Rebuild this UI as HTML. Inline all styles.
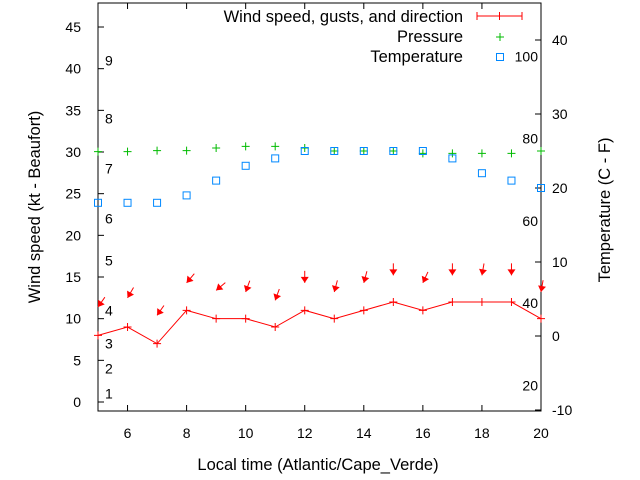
<!DOCTYPE html>
<html><head><meta charset="utf-8"><style>
body{margin:0;background:#fff}
svg{display:block;font-family:"Liberation Sans",sans-serif;font-size:14px}
.big{font-size:16.5px}
</style></head><body>
<svg id="chart" width="640" height="480">
<g id="g"></g>
</svg>
<script>
const hours=[5,6,7,8,9,10,11,12,13,14,15,16,17,18,19,20];
const windSpeed=[8,9,7,11,10,10,9,11,10,11,12,11,12,12,12,10];
const gusts=[11.4,12.5,10.4,14.3,13.4,13.2,12.2,14.3,13.2,14.3,15.2,14.3,15.2,15.2,15.2,13.2];
const windDir=[35,30,35,40,50,20,20,0,15,15,0,25,0,10,0,10];
const pressure=[30.04,30.04,30.16,30.16,30.48,30.68,30.68,30.48,30.12,30.12,30.12,29.84,29.84,29.84,29.84,30.12];
const temperature=[18,18,18,19,21,23,24,25,25,25,25,25,24,22,21,20];
const xTicks=[6,8,10,12,14,16,18,20];
const yTicks=[0,5,10,15,20,25,30,35,40,45];
const y2Ticks=[-10,0,10,20,30,40];
const fTicks=[20,40,60,80,100];
const beaufort=[1,4,7,11,17,22,28,34,41];

const L=98,R=541,T=3,B=411;
const X=v=>L+(v-5)*(R-L)/15;
const Y=v=>402-v*8.333;
const Y2=v=>336-v*7.4;
const ns="http://www.w3.org/2000/svg";
const g=document.getElementById('g');
function el(tag,attrs,txt){const e=document.createElementNS(ns,tag);for(const k in attrs)e.setAttribute(k,attrs[k]);if(txt!==undefined)e.textContent=txt;g.appendChild(e);return e;}

let e=el('rect',{x:L,y:T,width:R-L,height:B-T,fill:'none',stroke:'#000','stroke-width':1});



xTicks.forEach(t=>{
 let l=el('path',{d:`M${X(t)},${B}v-6M${X(t)},${T}v6`,stroke:'#000'});
 
 
 let tx=el('text',{x:X(t),y:438,'text-anchor':'middle'},t);
 
 
});
yTicks.forEach(t=>{
 let l=el('path',{d:`M${L},${Y(t)}h6`,stroke:'#000'});
 
 
 let tx=el('text',{x:L-17,y:Y(t)+5,'text-anchor':'end'},t);
 
 
});
y2Ticks.forEach(t=>{
 let l=el('path',{d:`M${R},${Y2(t)}h-6`,stroke:'#000'});
 
 
 let tx=el('text',{x:R+11,y:Y2(t)+5,'text-anchor':'start'},t);
 
 
});
fTicks.forEach(f=>{
 const c=(f-32)*5/9;
 let tx=el('text',{x:538,y:Y2(c)+5,'text-anchor':'end'},f);
 
 
});
beaufort.forEach((k,i)=>{
 let tx=el('text',{x:105,y:Y(k)+5},i+1);
 
 
});

let pts=hours.map((h,i)=>X(h)+','+Y(windSpeed[i])).join(' ');
e=el('polyline',{points:pts,fill:'none',stroke:'#f00','stroke-width':1});


hours.forEach((h,i)=>{
 let m=el('path',{d:`M${X(h)-4},${Y(windSpeed[i])}h8M${X(h)},${Y(windSpeed[i])-4}v8`,stroke:'#f00'});
 
 
 const a=windDir[i]*Math.PI/180;
 const tx=X(h),ty=Y(gusts[i]);
 const dx=Math.sin(a),dy=-Math.cos(a);
 const len=12;
 const sx=tx+dx*len,sy=ty+dy*len;
 const px=-dy,py=dx;
 let s=el('path',{d:`M${sx},${sy}L${tx},${ty}`,stroke:'#f00','stroke-width':1});
 
 
 const hx=tx+dx*6,hy=ty+dy*6;
 let hd=el('path',{d:`M${tx},${ty}L${hx+px*4},${hy+py*4}L${hx-px*4},${hy-py*4}Z`,fill:'#f00'});
 
 
 let p=el('path',{d:`M${X(h)-4},${Y(pressure[i])}h8M${X(h)},${Y(pressure[i])-4}v8`,stroke:'#0b0'});
 
 
 let q=el('rect',{x:X(h)-3.5,y:Y2(temperature[i])-3.5,width:7,height:7,fill:'none',stroke:'#08f','stroke-width':1});
 
 
});

e=el('text',{x:463,y:22,'text-anchor':'end',class:'big'},'Wind speed, gusts, and direction');


e=el('path',{d:'M477,16h45M477,12v8M522,12v8M499.5,12v8',stroke:'#f00'});


e=el('text',{x:463,y:42,'text-anchor':'end',class:'big'},'Pressure');


e=el('path',{d:'M496,37h8M500,33v8',stroke:'#0b0'});


e=el('text',{x:463,y:62,'text-anchor':'end',class:'big'},'Temperature');


e=el('rect',{x:496.5,y:53.5,width:7,height:7,fill:'none',stroke:'#08f'});



e=el('text',{x:318,y:470,'text-anchor':'middle',class:'big'},'Local time (Atlantic/Cape_Verde)');


e=el('text',{x:0,y:0,'text-anchor':'middle',class:'big',transform:'translate(40,207) rotate(-90)'},'Wind speed (kt - Beaufort)');


e=el('text',{x:0,y:0,'text-anchor':'middle',class:'big',transform:'translate(610,210) rotate(-90)'},'Temperature (C - F)');


</script>
</body></html>
